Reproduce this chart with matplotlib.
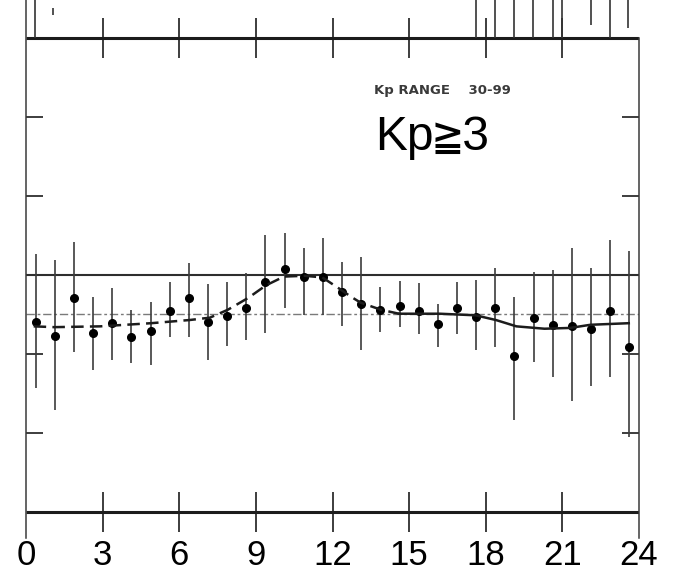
import matplotlib
matplotlib.use("Agg")
import matplotlib.pyplot as plt

# -----------------------------
# Data (Kp 30-99)
# y unit = one inner tick step, 0 = solid reference line
# -----------------------------
hours = [0.375, 1.125, 1.875, 2.625, 3.375, 4.125, 4.875, 5.625,
         6.375, 7.125, 7.875, 8.625, 9.375, 10.125, 10.875, 11.625,
         12.375, 13.125, 13.875, 14.625, 15.375, 16.125, 16.875, 17.625,
         18.375, 19.125, 19.875, 20.625, 21.375, 22.125, 22.875, 23.625]

values = [-0.60, -0.77, -0.29, -0.73, -0.61, -0.78, -0.71, -0.45,
          -0.29, -0.59, -0.52, -0.42, -0.09, 0.08, -0.03, -0.02,
          -0.21, -0.37, -0.44, -0.39, -0.45, -0.62, -0.42, -0.53,
          -0.42, -1.03, -0.54, -0.63, -0.65, -0.68, -0.45, -0.91]

err_top = [0.26, 0.19, 0.42, -0.28, -0.17, -0.44, -0.34, -0.09,
           0.15, -0.11, -0.09, 0.02, 0.51, 0.53, 0.34, 0.47,
           0.17, 0.23, -0.15, -0.07, -0.10, -0.37, -0.09, -0.06,
           0.09, -0.28, 0.04, 0.06, 0.34, 0.09, 0.44, 0.30]

err_bot = [-1.43, -1.71, -0.97, -1.20, -1.08, -1.12, -1.14, -0.78,
           -0.78, -1.08, -0.90, -0.82, -0.74, -0.42, -0.50, -0.51,
           -0.65, -0.95, -0.72, -0.66, -0.75, -0.91, -0.75, -0.95,
           -0.91, -1.84, -1.10, -1.29, -1.60, -1.41, -1.29, -2.05]

# fitted curve: dashed part then solid part
fit_dash_h = [0.3, 1.1, 2.9, 4.9, 6.4, 7.2, 7.9, 8.7, 9.4, 10.1,
              10.9, 11.6, 12.3, 12.7, 13.1, 13.9, 14.6]
fit_dash_v = [-0.65, -0.66, -0.65, -0.61, -0.57, -0.54, -0.44, -0.29, -0.13, -0.02,
              -0.01, -0.03, -0.18, -0.27, -0.35, -0.44, -0.49]
fit_solid_h = [14.6, 16.2, 17.6, 18.4, 19.2, 20.3, 21.3, 22.1, 23.6]
fit_solid_v = [-0.49, -0.49, -0.51, -0.57, -0.65, -0.68, -0.67, -0.63, -0.61]

ref_solid = 0.0
ref_dashed = -0.49
frame_top = 3.0
frame_bottom = -3.0
frame_ticks = [3, 6, 9, 12, 15, 18, 21]
side_ticks = [-2, -1, 1, 2]
hour_labels = [0, 3, 6, 9, 12, 15, 18, 21, 24]

# error-bar stubs of the panel above that reach into this one
stub_hours = [0.35, 1.06, 17.62, 18.36, 19.10, 19.85, 20.63, 20.99, 22.12, 22.87, 23.57]
stub_bottom = [3.0, 3.29, 3.0, 3.0, 3.0, 3.0, 3.0, 3.0, 3.16, 3.0, 3.13]
stub_top = [3.6, 3.38, 3.6, 3.6, 3.6, 3.6, 3.6, 3.6, 3.6, 3.6, 3.6]

ink = "#1c1c1c"

# -----------------------------
# Figure
# -----------------------------
fig = plt.figure(figsize=(6.73, 5.77), dpi=100)
ax = fig.add_axes([26 / 673, 39 / 577, 613 / 673, 538 / 577])
ax.set_xlim(0, 24)
ax.set_ylim(-3.329, 3.481)

ax.spines["top"].set_visible(False)
ax.spines["bottom"].set_visible(False)
for s in ("left", "right"):
    ax.spines[s].set_color("#3a3a3a")
    ax.spines[s].set_linewidth(1.1)
ax.spines["right"].set_bounds(-3.329, frame_top)

ax.set_yticks(side_ticks)
ax.tick_params(axis="y", direction="in", length=12, width=1.2, color=ink,
               left=True, right=True, labelleft=False, labelright=False)
ax.set_xticks(hour_labels)
ax.set_xticklabels([str(h) for h in hour_labels])
ax.tick_params(axis="x", length=0, pad=0.5, labelsize=25)
for lab in ax.get_xticklabels():
    lab.set_family(["Liberation Sans", "DejaVu Sans"])

# frame lines with crossing ticks
for yy in (frame_top, frame_bottom):
    ax.plot([0, 24], [yy, yy], color=ink, lw=2.2, solid_capstyle="butt")
    ax.plot(frame_ticks, [yy] * len(frame_ticks), ls="none", marker="|",
            ms=29, mew=1.2, color=ink)

# reference lines
ax.plot([0, 24], [ref_solid, ref_solid], color="#2e2e2e", lw=1.5)
ax.plot([0, 24], [ref_dashed, ref_dashed], color="#7a7a7a", lw=1.0,
        ls=(0, (6, 2, 2, 2)))

# stubs from upper panel
ax.vlines(stub_hours, stub_bottom, stub_top, color="#333333", lw=1.2)

# error bars and points
ax.vlines(hours, err_bot, err_top, color="#3c3c3c", lw=1.2)
ax.plot(hours, values, ls="none", marker="o", ms=5.5, color="black")

# fitted curve
ax.plot(fit_dash_h, fit_dash_v, color=ink, lw=1.8, ls=(0, (5, 2.5)))
ax.plot(fit_solid_h, fit_solid_v, color=ink, lw=1.8)

# labels
ax.text(16.29, 2.34, "Kp RANGE    30-99", ha="center", va="center",
        fontsize=9.5, fontweight="bold", color="#3a3a3a", family="DejaVu Sans")
ax.text(13.66, 1.58, "Kp≧3", ha="left", va="baseline", fontsize=34.5,
        color="black", family=["Liberation Sans", "DejaVu Sans Mono", "DejaVu Sans"])

fig.savefig("out.png", dpi=100)
